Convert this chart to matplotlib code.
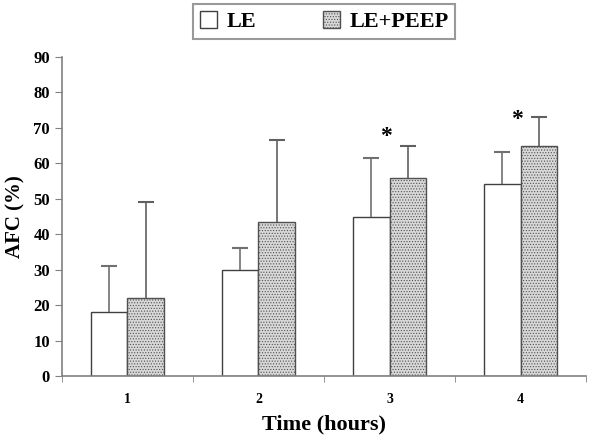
import numpy as np
import matplotlib.pyplot as plt
from matplotlib.patches import Patch

plt.rcParams['font.family'] = ['Liberation Serif', 'DejaVu Serif']
plt.rcParams['font.weight'] = 'bold'
plt.rcParams['hatch.linewidth'] = 0.5

hours = ['1', '2', '3', '4']
le_mean = [18, 30, 45, 54.3]
le_err = [13, 6, 16.5, 8.8]
peep_mean = [22, 43.5, 56, 64.8]
peep_err = [27, 23, 9, 8.2]
star_groups = [2, 3]
star_values = [67.7, 72.5]

x = np.arange(1, len(hours) + 1)
w = 0.28

fig = plt.figure(figsize=(6, 4.42), dpi=100)
ax = fig.add_axes([0.103, 0.149, 0.874, 0.722])

ax.bar(x - w / 2, le_mean, w, color='white', edgecolor='#404040', linewidth=1.0)
ax.bar(x + w / 2, peep_mean, w, color='#d8d8d8', edgecolor='#505050',
       hatch='......', linewidth=1.0)

# upper error bars only
for xs, m, e, c in [(x - w / 2, le_mean, le_err, '#707070'),
                    (x + w / 2, peep_mean, peep_err, '#606060')]:
    _, caps, _ = ax.errorbar(xs, m, yerr=[np.zeros(4), e], fmt='none',
                             ecolor=c, elinewidth=1.2, capsize=6, capthick=1.5)
    caps[0].remove()

for g, v in zip(star_groups, star_values):
    ax.text(x[g] - 0.03, v, '*', ha='center', va='center', fontsize=17,
            fontweight='bold')

ax.set_xlim(0.5, 4.5)
ax.set_ylim(0, 90)
ax.set_yticks(range(0, 91, 10))
ax.set_xticks(x)
ax.set_xticklabels(hours)
ax.set_xticks(np.arange(0.5, 4.6, 1), minor=True)
ax.tick_params(axis='x', which='major', length=0, pad=12, labelsize=10)
ax.tick_params(axis='x', which='minor', length=4, color='#808080', direction='out')
ax.tick_params(axis='y', length=5, color='#808080', labelsize=12)
for side in ['top', 'right']:
    ax.spines[side].set_visible(False)
for side in ['left', 'bottom']:
    ax.spines[side].set_color('#808080')
    ax.spines[side].set_linewidth(1.2)

ax.set_ylabel('AFC (%)', fontsize=15, fontweight='bold', labelpad=6)
ax.set_xlabel('Time (hours)', fontsize=16, fontweight='bold', labelpad=6)

handles = [Patch(facecolor='white', edgecolor='#404040', label='LE'),
           Patch(facecolor='#d8d8d8', edgecolor='#505050', hatch='......',
                 label='LE+PEEP')]
leg = fig.legend(handles=handles, loc='upper center', bbox_to_anchor=(0.54, 1.0),
                 ncol=2, frameon=True, fancybox=False, fontsize=16,
                 handlelength=0.8, handleheight=0.8, columnspacing=3.0,
                 handletextpad=0.4, borderpad=0.3, borderaxespad=0.2)
leg.get_frame().set_edgecolor('#808080')
leg.get_frame().set_linewidth(1.5)

fig.savefig('out.png', dpi=100)
